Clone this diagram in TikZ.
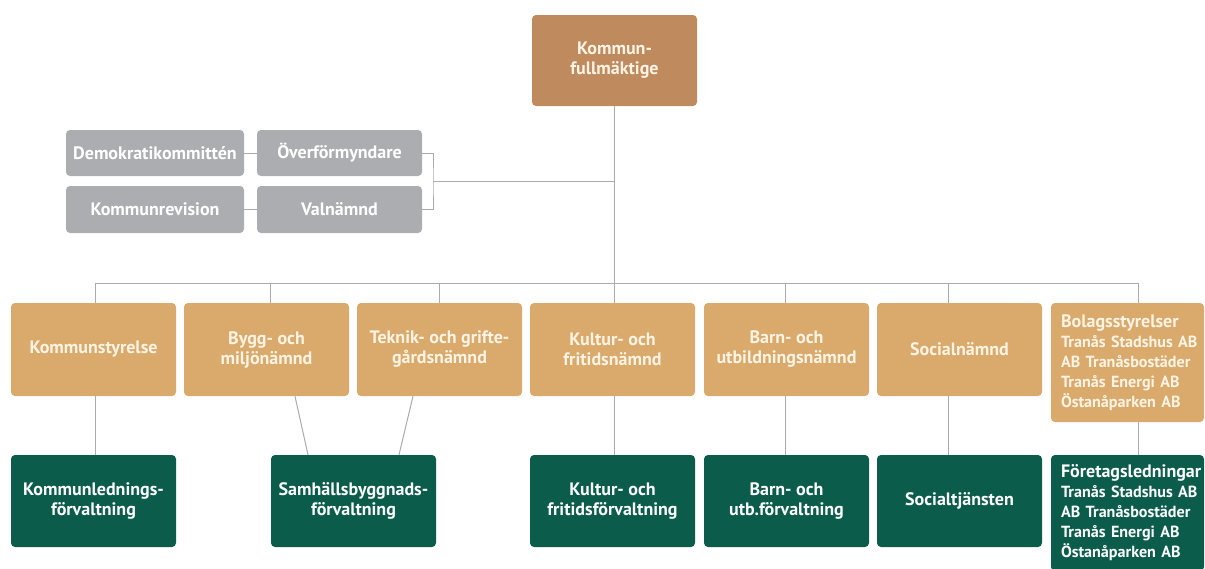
\documentclass[tikz,border=0pt]{standalone}
\usepackage{fontspec}
\setmainfont{PT Sans}
\definecolor{cBrown}{HTML}{C08A5F}
\definecolor{cTan}{HTML}{D9AA6C}
\definecolor{cGreen}{HTML}{0B5C4B}
\definecolor{cGrey}{HTML}{ABADB0}
\definecolor{cLine}{HTML}{ABABAB}
\definecolor{cCream}{HTML}{FFF4E4}
\newcommand{\listhead}[1]{\mbox{\fontsize{18}{20}\selectfont #1}}
\begin{document}
\begin{tikzpicture}[x=1pt,y=-1pt,
  box/.style={rounded corners=4pt, inner sep=0pt, align=center,
    font=\bfseries\fontsize{18}{20}\selectfont},
  topbox/.style={box, fill=cBrown, text=cCream, minimum width=165pt, minimum height=91pt},
  greybox/.style={box, fill=cGrey, text=white, minimum height=46pt},
  nbox/.style={box, fill=cTan, text=cCream, minimum width=165pt, minimum height=93pt},
  fbox/.style={box, fill=cGreen, text=white, minimum width=165pt, minimum height=92pt},
  listbox/.style={rounded corners=4pt, inner xsep=10pt, inner ysep=0pt, align=left,
    text width=133pt, font=\bfseries\fontsize{16.1}{20}\selectfont},
  conn/.style={draw=cLine, line width=1pt}]
\useasboundingbox (0,0) rectangle (1205,568);
\clip (0,0) rectangle (1205,568);
% top
\node[topbox] (kf) at (614.5,60.5) {Kommun-\\fullmäktige};
% grey committees
\node[greybox, minimum width=178pt] (demo) at (155,153) {Demokratikommittén};
\node[greybox, minimum width=165pt] (over) at (339.5,153) {Överförmyndare};
\node[greybox, minimum width=178pt, minimum height=47pt] (rev) at (155,209.5) {Kommunrevision};
\node[greybox, minimum width=165pt, minimum height=47pt] (val) at (339.5,209.5) {Valnämnd};
% boards
\node[nbox] (ks) at (93.5,349.5) {Kommunstyrelse};
\node[nbox] (bm) at (266.5,349.5) {Bygg- och\\miljönämnd};
\node[nbox] (tg) at (439.5,349.5) {Teknik- och grifte-\\gårdsnämnd};
\node[nbox] (kn) at (612.5,349.5) {Kultur- och\\fritidsnämnd};
\node[nbox] (bn) at (786.5,349.5) {Barn- och\\utbildningsnämnd};
\node[nbox] (sn) at (959.5,349.5) {Socialnämnd};
\node[listbox, fill=cTan, text=cCream, minimum height=119pt] (bs) at (1127.5,362.5)
  {\listhead{Bolagsstyrelser}\\\mbox{Tranås Stadshus AB}\\\mbox{AB Tranåsbostäder}\\\mbox{Tranås Energi AB}\\\mbox{Östanåparken AB}};
% administrations
\node[fbox] (kl) at (93.5,501) {Kommunlednings-\\förvaltning};
\node[fbox] (sb) at (353.5,501) {Samhällsbyggnads-\\förvaltning};
\node[fbox] (kff) at (612.5,501) {Kultur- och\\fritidsförvaltning};
\node[fbox] (buf) at (786.5,501) {Barn- och\\utb.förvaltning};
\node[fbox] (st) at (959.5,501) {Socialtjänsten};
\node[listbox, fill=cGreen, text=white, minimum height=116pt] (fl) at (1127.5,513)
  {\listhead{Företagsledningar}\\\mbox{Tranås Stadshus AB}\\\mbox{AB Tranåsbostäder}\\\mbox{Tranås Energi AB}\\\mbox{Östanåparken AB}};
% bus coordinates
\coordinate (b1) at (95,283);
\coordinate (b2) at (270,283);
\coordinate (b3) at (439.5,283);
\coordinate (b4) at (614.5,283);
\coordinate (b5) at (785,283);
\coordinate (b6) at (948,283);
\coordinate (b7) at (1138,283);
\coordinate (brk) at (433,181.5);
% connectors
\draw[conn] (kf.south) -- (b4 |- kn.north);
\draw[conn] (b1) -- (b7);
\draw[conn] (b1) -- (b1 |- ks.north);
\draw[conn] (b2) -- (b2 |- bm.north);
\draw[conn] (b3) -- (b3 |- tg.north);
\draw[conn] (b5) -- (b5 |- bn.north);
\draw[conn] (b6) -- (b6 |- sn.north);
\draw[conn] (b7) -- (b7 |- bs.north);
\draw[conn] (demo.east) -- (over.west);
\draw[conn] (rev.east) -- (val.west);
\draw[conn] (over.east) -| (brk) |- (val.east);
\draw[conn] (brk) -- (brk -| kf.south);
\draw[conn] (b1 |- ks.south) -- (b1 |- kl.north);
\draw[conn] ([xshift=28.5pt]bm.south) -- ([xshift=-45.5pt]sb.north);
\draw[conn] ([xshift=-26.5pt]tg.south) -- ([xshift=45.5pt]sb.north);
\draw[conn] (b4 |- kn.south) -- (b4 |- kff.north);
\draw[conn] (b5 |- bn.south) -- (b5 |- buf.north);
\draw[conn] (b6 |- sn.south) -- (b6 |- st.north);
\draw[conn] (b7 |- bs.south) -- (b7 |- fl.north);
\end{tikzpicture}
\end{document}
